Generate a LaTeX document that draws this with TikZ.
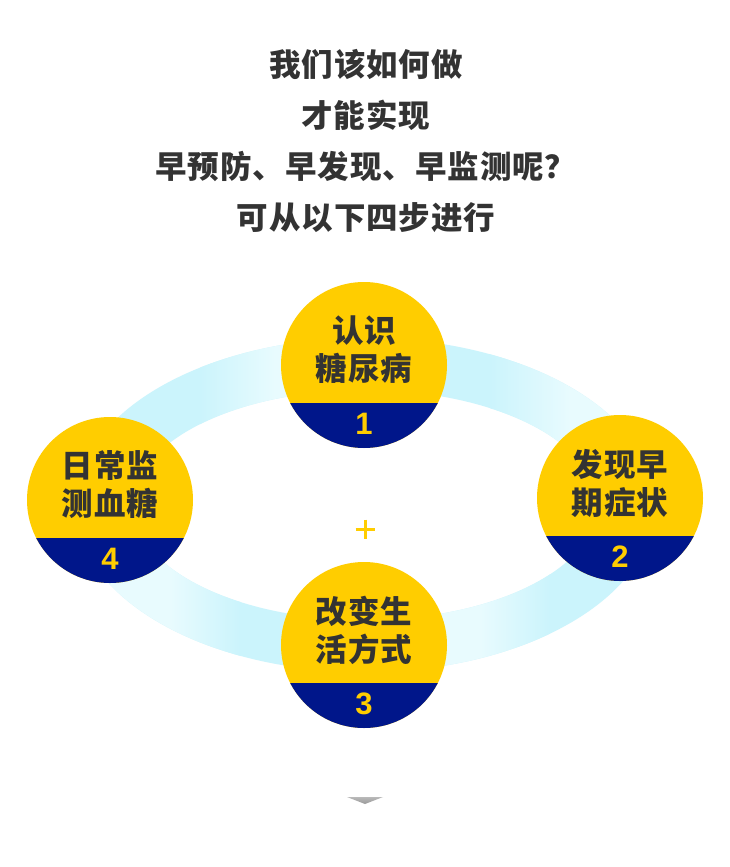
\documentclass[tikz,border=0pt]{standalone}
\usepackage{fontspec}
\newfontfamily\cjk{Noto Sans CJK SC}[LetterSpace=3]
\newfontfamily\numfont{Liberation Sans}
\usetikzlibrary{calc}
\definecolor{ylw}{HTML}{FFCD00}
\definecolor{navy}{HTML}{00168A}
\definecolor{txt}{HTML}{333333}
\definecolor{ringdark}{HTML}{CBF4FC}
\definecolor{ringlight}{HTML}{E8FBFE}
\begin{document}
\begin{tikzpicture}[x=1pt,y=-1pt,
  disc/.style={circle, fill=ylw, minimum size=166pt, inner sep=0pt},
  steptext/.style={font=\cjk\bfseries\fontsize{31.5}{38}\selectfont, text=txt, align=center, inner sep=0pt},
  numtxt/.style={font=\numfont\bfseries\fontsize{31}{31}\selectfont, text=ylw, inner sep=0pt},
  titletext/.style={font=\cjk\bfseries\fontsize{31.5}{50.7}\selectfont, text=txt, align=center, inner sep=0pt},
]
\useasboundingbox (0,0) rectangle (730,867);
\fill[white] (0,0) rectangle (730,867);

% title
\node[titletext] (title) at (366,141) {我们该如何做\\才能实现\\早预防、早发现、早监测呢？\\可从以下四步进行};

% ring
\coordinate (rc) at (365,505);
\begin{scope}[even odd rule]
  \clip (rc) ellipse [x radius=290, y radius=167] (rc) ellipse [x radius=232, y radius=115];
  \fill[ringdark] (50,300) rectangle (680,700);
  % upper left
  \shade[left color=ringdark, right color=ringlight] (200,300) rectangle (275,505);
  \fill[ringlight] (275,300) rectangle (365,505);
  % upper right
  \shade[left color=ringdark, right color=ringlight] (490,300) rectangle (570,505);
  \fill[ringlight] (570,300) rectangle (680,505);
  % lower right
  \fill[ringlight] (365,505) rectangle (480,700);
  \shade[left color=ringlight, right color=ringdark] (480,505) rectangle (550,700);
  % lower left
  \fill[ringlight] (50,505) rectangle (170,700);
  \shade[left color=ringlight, right color=ringdark] (170,505) rectangle (240,700);
\end{scope}

% plus
\coordinate (plus) at (365,529);
\draw[ylw, line width=3pt] ($(plus)+(-9.5,0)$) -- ($(plus)+(9.5,0)$);
\draw[ylw, line width=3pt] ($(plus)+(0,-9.5)$) -- ($(plus)+(0,9.5)$);

% circles
\foreach \nm/\cx/\cy/\lab/\num in {c1/364/365/{认识\\糖尿病}/1, c2/620/498/{发现早\\期症状}/2, c3/364/645/{改变生\\活方式}/3, c4/110/500/{日常监\\测血糖}/4}{
  \node[disc] (\nm) at (\cx,\cy) {};
  \begin{scope}
    \clip (\nm.center) circle (83);
    \fill[navy] ($(\nm.center)+(-90,38)$) rectangle ($(\nm.center)+(90,90)$);
  \end{scope}
  \node[steptext] (\nm t) at ($(\nm.center)+(0,-15)$) {\lab};
  \node[numtxt] (\nm n) at ($(\nm.center)+(0,59)$) {\num};
}

% bottom arrow
\coordinate (arr) at (365,797);
\shade[top color=gray!55, bottom color=gray!80] ($(arr)+(-18,0)$) -- ($(arr)+(18,0)$) -- ($(arr)+(0,7)$) -- cycle;
\end{tikzpicture}
\end{document}
